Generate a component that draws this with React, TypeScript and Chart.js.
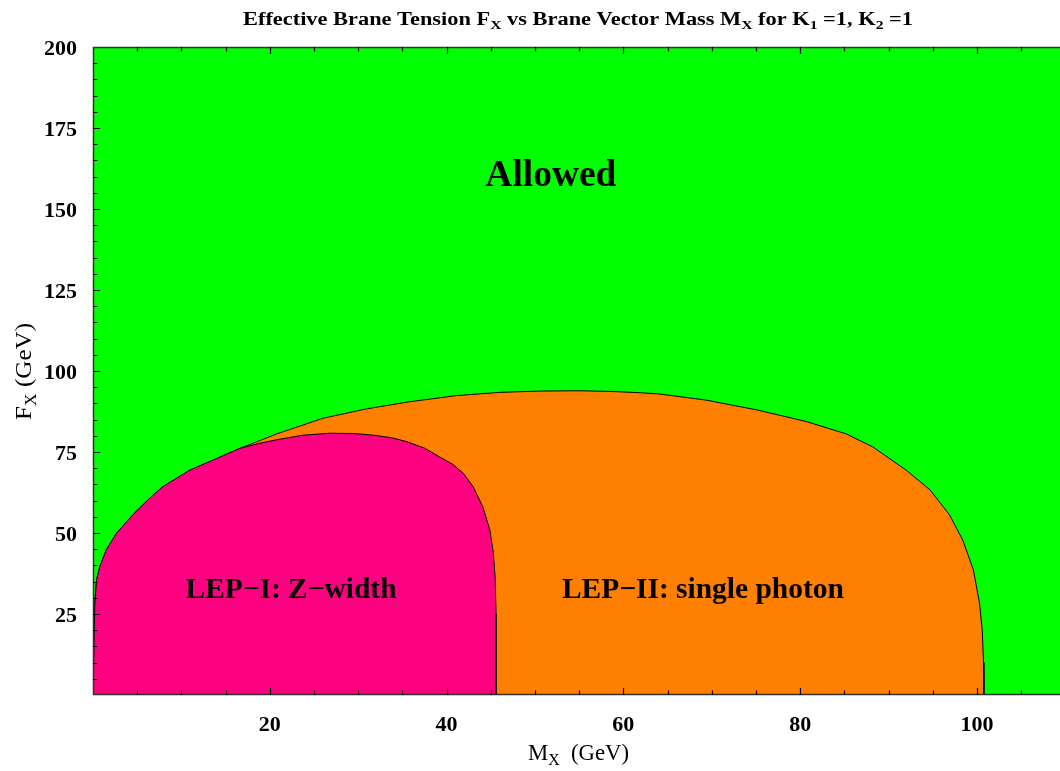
import React, { useEffect, useRef } from "react";
import { Chart, registerables } from "chart.js";

Chart.register(...registerables);

// ---- axis ranges and tick labels ----
const xRange = [0, 109.4];
const yRange = [0, 200];
const xTickLabels = [20, 40, 60, 80, 100];
const yTickLabels = [25, 50, 75, 100, 125, 150, 175, 200];
const minorStep = 5;

// ---- LEP-II: single photon exclusion boundary (M_X, F_X) ----
const lep2X = [0, 0.2, 0.4, 0.77, 1.5, 2.66, 4.5, 6.4, 7.9, 10.95, 14, 16.6, 20.8, 26, 30.9, 35.8, 41.1, 46, 50.5, 55, 58.5, 61.9, 64.1, 69.4, 75.1, 80.7, 85.2, 88.2, 92, 94.7, 96.9, 98.4, 99.6, 100.3, 100.6, 100.75, 100.8];
const lep2Y = [0, 28, 35.5, 39.6, 44.8, 49.9, 55.6, 60.7, 64.3, 69.4, 73, 76.1, 80.6, 85.4, 88.3, 90.5, 92.4, 93.4, 93.8, 93.9, 93.7, 93.3, 92.9, 91, 88, 84.4, 80.6, 76.6, 69.4, 63.3, 55.6, 47.8, 38.6, 28.3, 20, 10, 0];

// ---- LEP-I: Z-width exclusion boundary (M_X, F_X) ----
const lep1X = [0, 0.2, 0.4, 0.77, 1.5, 2.66, 4.5, 6.4, 7.9, 10.95, 14, 16.6, 18.7, 20.8, 23.8, 26.8, 29.5, 31.7, 33.8, 35.5, 37.5, 39.2, 40.7, 41.9, 43, 44.1, 44.9, 45.3, 45.5, 45.6, 45.6];
const lep1Y = [0, 28, 35.5, 39.6, 44.8, 49.9, 55.6, 60.7, 64.3, 69.4, 73, 76.1, 77.6, 78.8, 80.2, 80.8, 80.7, 80.2, 79.4, 78.2, 76.2, 73.5, 71.2, 68.4, 64.3, 58.1, 50.9, 43.7, 36, 25, 0];

// ---- region labels ----
const regionNames = ["Allowed", "LEP\u2212I: Z\u2212width", "LEP\u2212II: single photon"];
const regionLabelX = [51.8, 22.4, 69.0];
const regionLabelY = [157.1, 29.9, 29.9];

type Part = { t: string; sub?: boolean };

const SERIF = '"Liberation Serif", "Times New Roman", serif';

function drawParts(
  ctx: CanvasRenderingContext2D,
  parts: Part[],
  weight: string,
  size: number,
  cx: number,
  baseline: number,
  targetW: number,
  align: "center" | "right" = "center"
) {
  const widths = parts.map((p) => {
    ctx.font = `${weight} ${p.sub ? size * 0.7 : size}px ${SERIF}`;
    return ctx.measureText(p.t).width;
  });
  const total = widths.reduce((a, b) => a + b, 0);
  const sx = targetW > 0 ? targetW / total : 1;
  ctx.save();
  ctx.translate(cx, baseline);
  ctx.scale(sx, 1);
  ctx.textBaseline = "alphabetic";
  ctx.textAlign = "left";
  ctx.fillStyle = "#000";
  let x = align === "center" ? -total / 2 : -total;
  parts.forEach((p, i) => {
    ctx.font = `${weight} ${p.sub ? size * 0.7 : size}px ${SERIF}`;
    ctx.fillText(p.t, x, p.sub ? size * 0.22 : 0);
    x += widths[i];
  });
  ctx.restore();
}

const decorPlugin = {
  id: "decor",
  beforeDraw(chart: any) {
    const { ctx, chartArea } = chart;
    ctx.save();
    ctx.fillStyle = "#00FF00";
    ctx.fillRect(chartArea.left, chartArea.top, chartArea.right - chartArea.left, chartArea.bottom - chartArea.top);
    ctx.restore();
  },
  afterDatasetsDraw(chart: any) {
    const { ctx, chartArea } = chart;
    const xs = chart.scales.x;
    const ys = chart.scales.y;
    const { left, right, top, bottom } = chartArea;

    // region labels
    regionNames.forEach((name, i) => {
      const px = xs.getPixelForValue(regionLabelX[i]);
      const py = ys.getPixelForValue(regionLabelY[i]);
      if (i === 0) drawParts(ctx, [{ t: name }], "bold", 37, px, py, 131);
      else if (i === 1) drawParts(ctx, [{ t: name }], "bold", 30, px, py, 211);
      else drawParts(ctx, [{ t: name }], "bold", 30, px, py, 282);
    });

    ctx.save();
    // frame
    ctx.strokeStyle = "#333";
    ctx.lineWidth = 1.5;
    ctx.beginPath();
    ctx.moveTo(right, top + 0.5);
    ctx.lineTo(left + 0.5, top + 0.5);
    ctx.lineTo(left + 0.5, bottom - 0.5);
    ctx.lineTo(right, bottom - 0.5);
    ctx.stroke();

    // inward ticks
    ctx.strokeStyle = "#000";
    ctx.lineWidth = 1.2;
    ctx.beginPath();
    for (let v = xRange[0] + minorStep; v < xRange[1]; v += minorStep) {
      const px = Math.round(xs.getPixelForValue(v)) + 0.5;
      const len = v % 20 === 0 ? 7 : 4.5;
      ctx.moveTo(px, bottom);
      ctx.lineTo(px, bottom - len);
      ctx.moveTo(px, top);
      ctx.lineTo(px, top + len);
    }
    for (let v = yRange[0] + minorStep; v < yRange[1]; v += minorStep) {
      const py = Math.round(ys.getPixelForValue(v)) + 0.5;
      const len = v % 25 === 0 ? 7 : 4.5;
      ctx.moveTo(left, py);
      ctx.lineTo(left + len, py);
    }
    ctx.stroke();
    ctx.restore();

    // tick labels
    xTickLabels.forEach((v) => {
      const px = xs.getPixelForValue(v);
      drawParts(ctx, [{ t: String(v) }], "bold", 22, px, 731, 0);
    });
    yTickLabels.forEach((v) => {
      const py = ys.getPixelForValue(v);
      drawParts(ctx, [{ t: String(v) }], "bold", 22, 77, py + 7.5, 0, "right");
    });
  },
  afterDraw(chart: any) {
    const { ctx } = chart;
    // title
    drawParts(
      ctx,
      [
        { t: "Effective Brane Tension F" },
        { t: "X", sub: true },
        { t: " vs Brane Vector Mass M" },
        { t: "X", sub: true },
        { t: " for K" },
        { t: "1", sub: true },
        { t: " =1, K" },
        { t: "2", sub: true },
        { t: " =1" },
      ],
      "bold",
      18.5,
      578,
      25,
      670
    );
    // x axis title
    drawParts(ctx, [{ t: "M" }, { t: "X", sub: true }, { t: "  (GeV)" }], "normal", 24, 578.5, 760, 101);
    // y axis title (rotated)
    ctx.save();
    ctx.translate(31, 371.5);
    ctx.rotate(-Math.PI / 2);
    drawParts(ctx, [{ t: "F" }, { t: "X", sub: true }, { t: " (GeV)" }], "normal", 24, 0, 0, 97);
    ctx.restore();
  },
};

export default function App() {
  const canvasRef = useRef<HTMLCanvasElement | null>(null);

  useEffect(() => {
    document.body.style.margin = "0";
    const canvas = canvasRef.current;
    if (!canvas) return;
    const chart = new Chart(canvas, {
      type: "scatter",
      data: {
        datasets: [
          {
            label: "LEP-I: Z-width",
            data: lep1X.map((x, i) => ({ x, y: lep1Y[i] })),
            showLine: true,
            tension: 0,
            borderColor: "#000",
            borderWidth: 1,
            backgroundColor: "#FF0080",
            fill: "origin",
            pointRadius: 0,
          },
          {
            label: "LEP-II: single photon",
            data: lep2X.map((x, i) => ({ x, y: lep2Y[i] })),
            showLine: true,
            tension: 0,
            borderColor: "#000",
            borderWidth: 1,
            backgroundColor: "#FF8000",
            fill: "origin",
            pointRadius: 0,
          },
        ],
      },
      options: {
        responsive: false,
        animation: false,
        devicePixelRatio: 1,
        layout: { padding: { left: 93, right: 0, top: 47, bottom: 76 } },
        scales: {
          x: { type: "linear", min: xRange[0], max: xRange[1], display: false },
          y: { type: "linear", min: yRange[0], max: yRange[1], display: false },
        },
        plugins: {
          legend: { display: false },
          tooltip: { enabled: false },
          title: { display: false },
        },
      },
      plugins: [decorPlugin],
    });
    return () => chart.destroy();
  }, []);

  return (
    <div style={{ width: 1060, height: 771, background: "#fff" }}>
      <canvas ref={canvasRef} width={1060} height={771} style={{ display: "block" }} />
    </div>
  );
}
